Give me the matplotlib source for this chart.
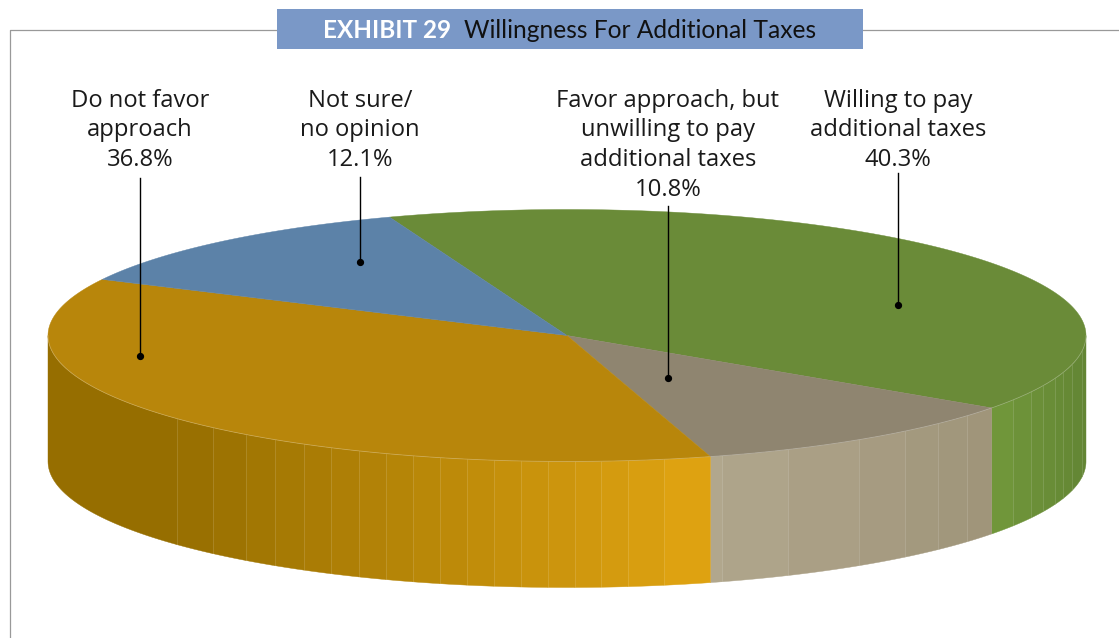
import numpy as np
import matplotlib
matplotlib.use("Agg")
import matplotlib.pyplot as plt
from matplotlib.patches import Polygon, Rectangle

# slices, clockwise from the back of the pie
shares = [40.3, 10.8, 36.8, 12.1]
share_text = ["40.3%", "10.8%", "36.8%", "12.1%"]
label_lines = [
    ["Willing to pay", "additional taxes"],
    ["Favor approach, but", "unwilling to pay", "additional taxes"],
    ["Do not favor", "approach"],
    ["Not sure/", "no opinion"],
]
top_colors = ["#6A8B38", "#8F8570", "#B8860B", "#5C82A8"]

# side wall shading: x position -> colour, one ramp per slice
wall_ramps = [
    ([989, 1086], ["#72993B", "#638534"]),
    ([715, 989], ["#B1A78D", "#9F9479"]),
    ([48, 177, 714], ["#966E00", "#966E00", "#E2A512"]),
    ([48, 48], ["#5C82A8", "#5C82A8"]),
]
# facet edges along the wall
facet_x = [177, 213, 246, 275, 304, 331, 359, 386, 413, 440, 467, 494, 521, 548,
           575, 601, 628, 664, 722, 788, 859, 905, 938, 967, 1013, 1031, 1043,
           1055, 1063, 1072, 1082]

# leader lines: label centre x, line top, dot position
label_cx = [898, 668, 140, 360]
leader_x = [898, 668, 140, 360]
leader_top = [173, 206, 178, 177]
leader_end = [305, 378, 356, 262]

# pie geometry in pixels
cx, cy, rx, ry, depth = 567, 335.5, 519, 126, 126
start_angle = 110.0

fig = plt.figure(figsize=(11.19, 6.38), dpi=100)
ax = fig.add_axes([0, 0, 1, 1])
ax.set_xlim(0, 1119)
ax.set_ylim(638, 0)
ax.axis("off")


def ellipse_xy(theta):
    t = np.radians(theta)
    return cx + rx * np.cos(t), cy - ry * np.sin(t)


def ramp_color(x, ramp):
    stops, cols = ramp
    rgb = [matplotlib.colors.to_rgb(c) for c in cols]
    return tuple(np.interp(x, stops, [c[i] for c in rgb]) for i in range(3))


# frame behind the title bar
ax.plot([10, 10, 1119], [638, 30, 30], color="#999999", lw=0.9, zorder=1)
ax.add_patch(Rectangle((277, 9), 586, 40, facecolor="#7A98C7", edgecolor="none", zorder=2))
ax.text(323, 38, "EXHIBIT 29", color="white", fontsize=17.5, fontweight="bold",
        family="Lato", va="baseline", zorder=3)
ax.text(464, 38, "Willingness For Additional Taxes", color="#111111", fontsize=17.7,
        family="Lato", va="baseline", zorder=3)

# slice boundaries come from the shares
spans = np.array(shares) / sum(shares) * 360
ends = start_angle - np.cumsum(spans)
starts = ends + spans
facet_theta = -np.degrees(np.arccos((np.array(facet_x) - cx) / rx))

# side wall, only the front half shows
for s, e, ramp in zip(starts, ends, wall_ramps):
    hi, lo = min(s, 0), max(e, -180)
    if hi <= lo:
        continue
    inner = [t for t in facet_theta if lo < t < hi]
    edges = [hi] + sorted(inner, reverse=True) + [lo]
    for a, b in zip(edges[:-1], edges[1:]):
        th = np.linspace(a, b, 40)
        xs, ys = ellipse_xy(th)
        pts = np.r_[np.c_[xs, ys], np.c_[xs[::-1], ys[::-1] + depth]]
        col = ramp_color(xs.mean(), ramp)
        ax.add_patch(Polygon(pts, closed=True, facecolor=col, edgecolor=col, lw=0.3, zorder=3))

# faint seams between facets
for t in facet_theta:
    x, y = ellipse_xy(t)
    ax.plot([x, x], [y, y + depth], color="white", lw=0.6, alpha=0.16, zorder=4)

# top face
for s, e, col in zip(starts, ends, top_colors):
    th = np.linspace(s, e, 300)
    xs, ys = ellipse_xy(th)
    pts = np.r_[[[cx, cy]], np.c_[xs, ys]]
    ax.add_patch(Polygon(pts, closed=True, facecolor=col, edgecolor=col, lw=0.3, zorder=5))

# light rim along the front edge
th = np.linspace(-180, 0, 400)
xs, ys = ellipse_xy(th)
ax.plot(xs, ys, color="white", lw=0.6, alpha=0.25, zorder=6)

# labels and leaders
for lines, pct, lx, x, y0, y1 in zip(label_lines, share_text, label_cx, leader_x,
                                     leader_top, leader_end):
    for i, line in enumerate(lines + [pct]):
        ax.text(lx, 107 + i * 29.5, line, ha="center", va="baseline", fontsize=17.1,
                family="Open Sans", color="#1A1A1A", zorder=8)
    ax.plot([x, x], [y0, y1], color="black", lw=1.0, zorder=7)
    ax.plot([x], [y1], "o", color="black", ms=4.2, zorder=7)

fig.savefig("out.png", dpi=100)
